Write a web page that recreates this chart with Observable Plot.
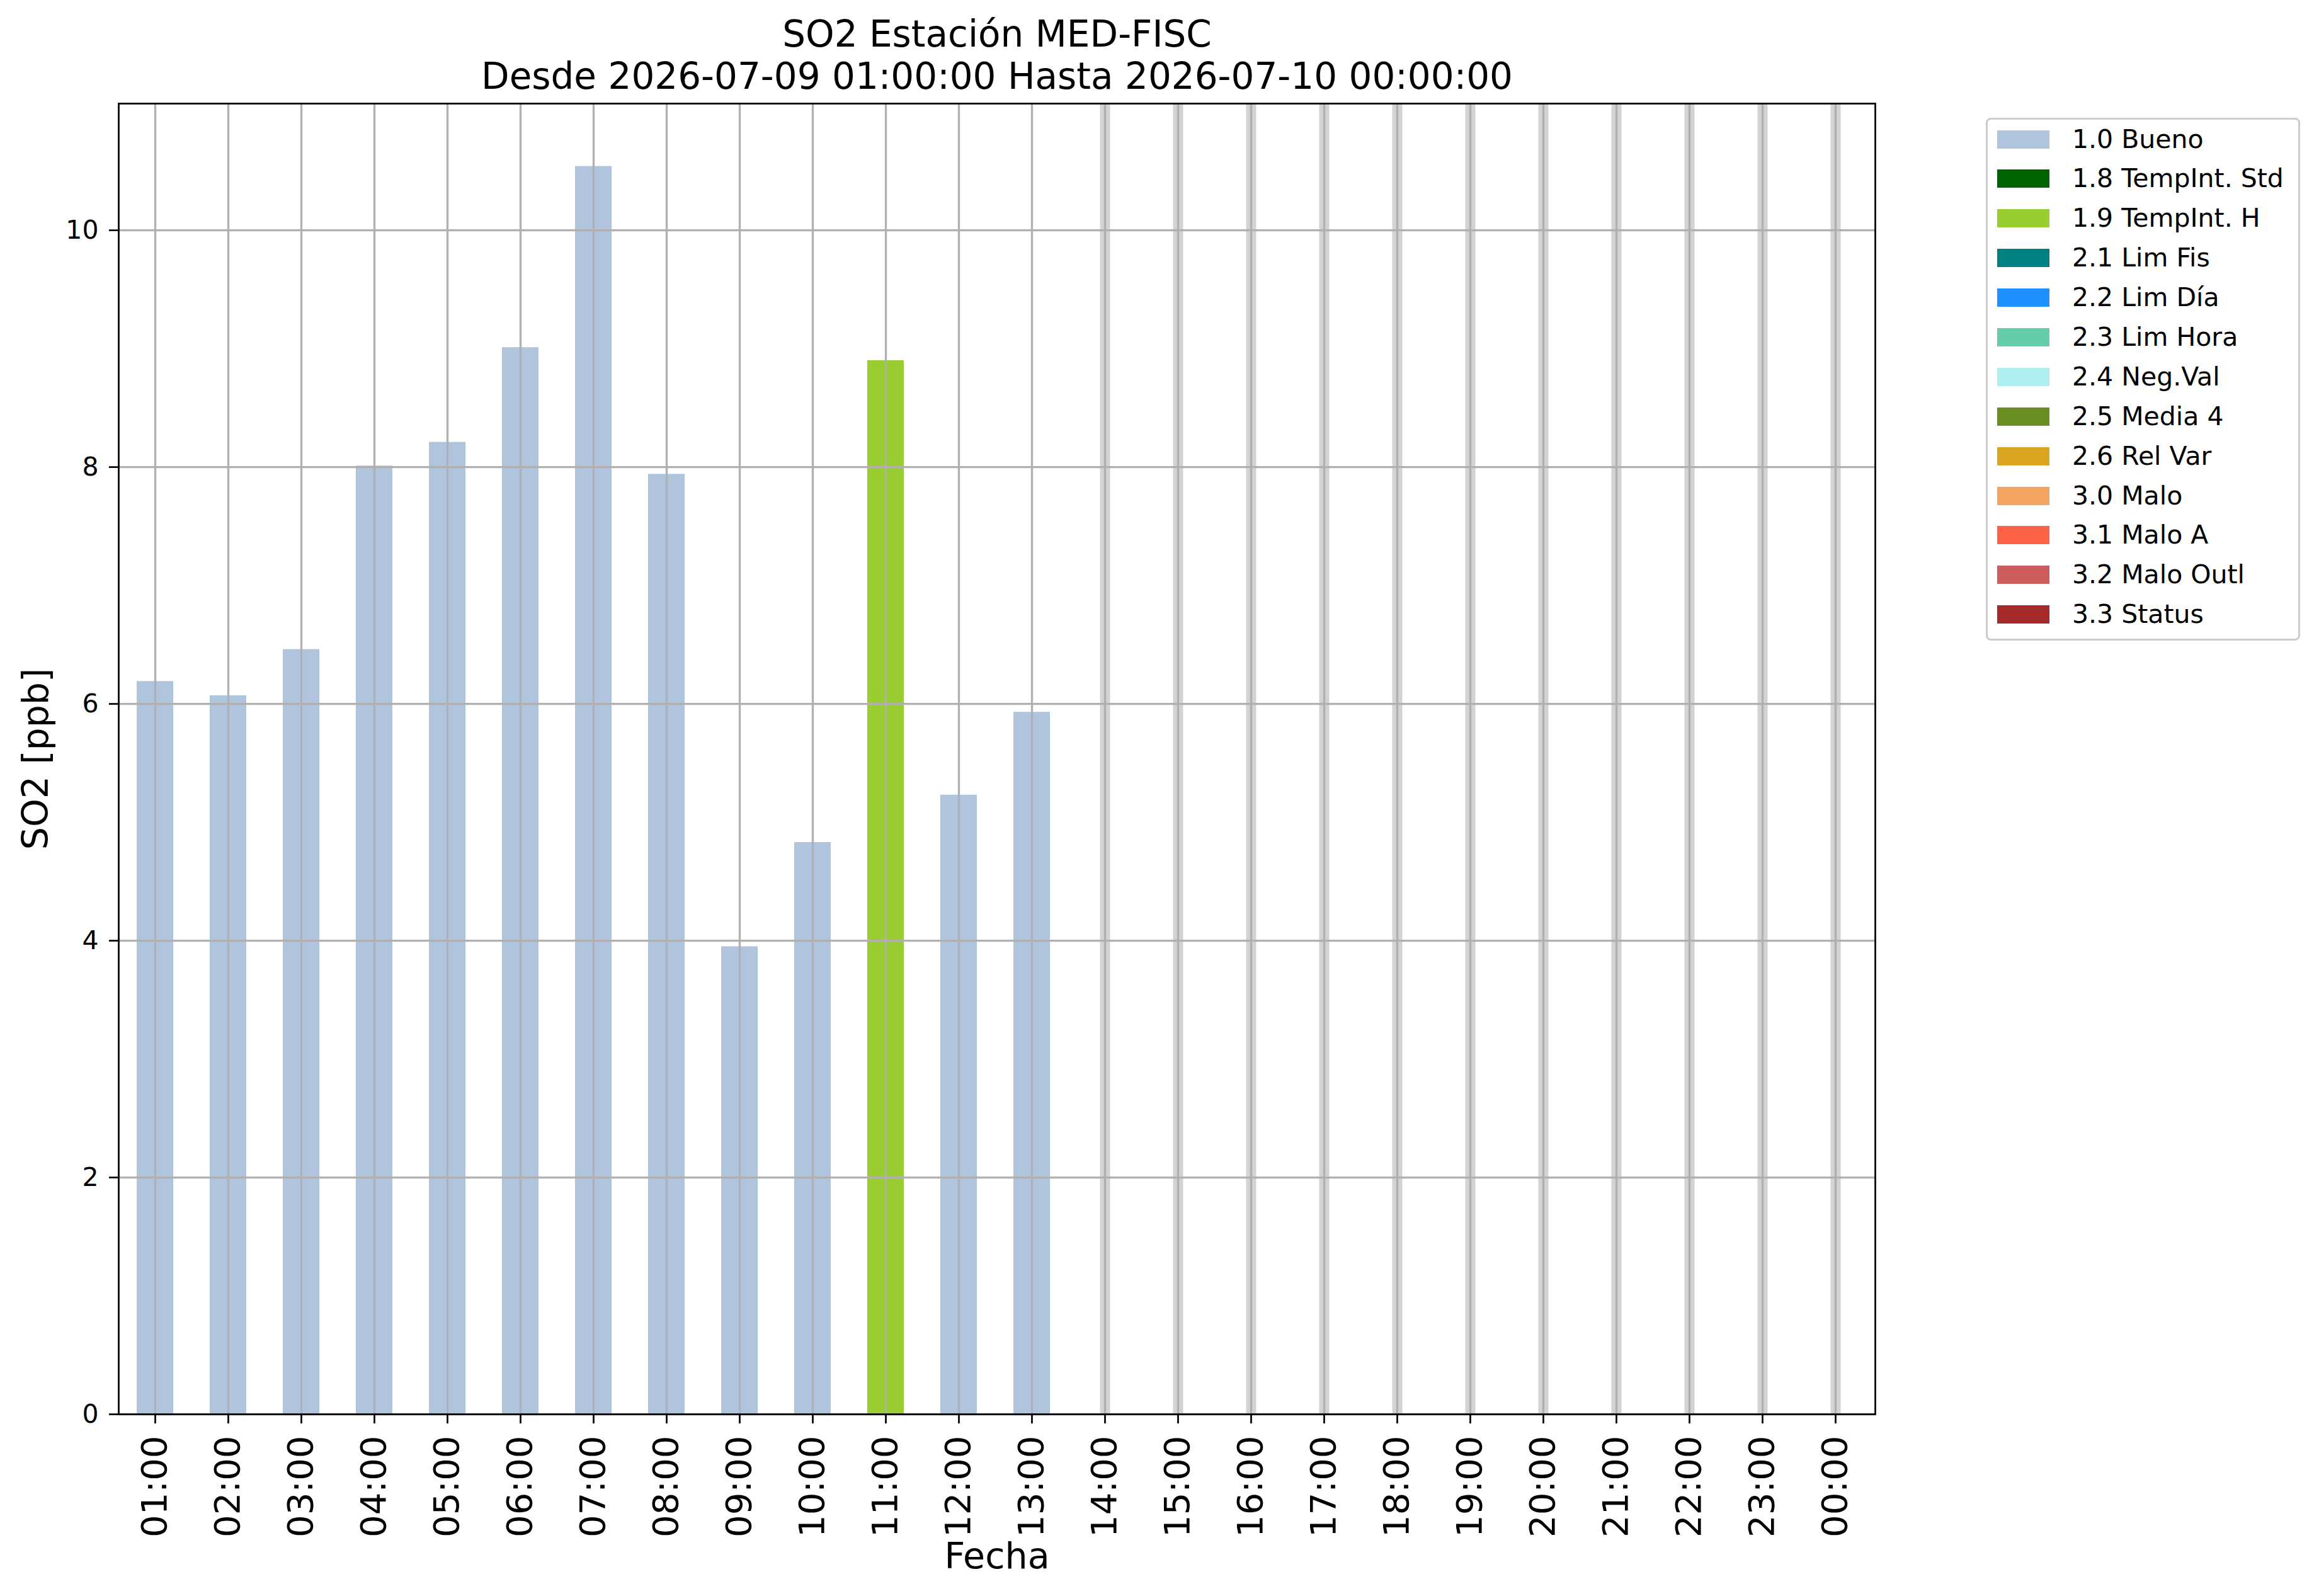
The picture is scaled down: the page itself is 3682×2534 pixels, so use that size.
<!DOCTYPE html>
<html>
<head>
<meta charset="utf-8">
<script src="https://cdn.jsdelivr.net/npm/d3@7"></script>
<script src="https://cdn.jsdelivr.net/npm/@observablehq/plot@0.6"></script>
<style>
  html, body { margin: 0; padding: 0; background: white; }
  #wrap { position: relative; width: 3682px; height: 2534px; font-family: "DejaVu Sans", sans-serif; }
  #legend { position: absolute; left: 3153px; top: 187px; width: 493px; height: 824px;
            border: 3px solid #cccccc; border-radius: 8px; background: white; box-sizing: content-box; }
  .row { position: absolute; left: 0; height: 62.8px; display: flex; align-items: center; }
  .sw { position: absolute; left: 15px; width: 83px; height: 29px; }
  .lb { position: absolute; left: 134px; font-size: 41px; white-space: nowrap; color: black; line-height: 1; }
</style>
</head>
<body>
<div id="wrap"></div>
<script>
// ---- data ----
const hours = ["01:00","02:00","03:00","04:00","05:00","06:00","07:00","08:00","09:00","10:00","11:00","12:00",
               "13:00","14:00","15:00","16:00","17:00","18:00","19:00","20:00","21:00","22:00","23:00","00:00"];
const values = [6.19, 6.07, 6.46, 8.01, 8.21, 9.01, 10.54, 7.94, 3.95, 4.83, 8.90, 5.23, 5.93,
                null, null, null, null, null, null, null, null, null, null, null];
const flags = ["1.0 Bueno","1.0 Bueno","1.0 Bueno","1.0 Bueno","1.0 Bueno","1.0 Bueno","1.0 Bueno",
               "1.0 Bueno","1.0 Bueno","1.0 Bueno","1.9 TempInt. H","1.0 Bueno","1.0 Bueno",
               null, null, null, null, null, null, null, null, null, null, null];
const missingHours = ["14:00","15:00","16:00","17:00","18:00","19:00","20:00","21:00","22:00","23:00","00:00"];
const legendLabels = ["1.0 Bueno","1.8 TempInt. Std","1.9 TempInt. H","2.1 Lim Fis","2.2 Lim Día","2.3 Lim Hora",
                      "2.4 Neg.Val","2.5 Media 4","2.6 Rel Var","3.0 Malo","3.1 Malo A","3.2 Malo Outl","3.3 Status"];
const legendColors = ["#b0c4de","#006400","#9acd32","#008080","#1e90ff","#66cdaa",
                      "#afeeee","#6b8e23","#daa520","#f4a460","#ff6347","#cd5c5c","#a52a2a"];
const yTicks = [0, 2, 4, 6, 8, 10];
const titleLines = ["SO2 Estación MED-FISC", "Desde 2026-07-09 01:00:00 Hasta 2026-07-10 00:00:00"];
const xLabel = "Fecha";
const yLabel = "SO2 [ppb]";

const data = hours.map((h, i) => ({hour: h, value: values[i], flag: flags[i]})).filter(d => d.value != null);

const mid = {lineAnchor: "middle", textAnchor: "middle", fill: "black"};

const chart = Plot.plot({
  width: 3682,
  height: 2534,
  marginLeft: 188,
  marginRight: 705,
  marginTop: 164,
  marginBottom: 289,
  style: {fontFamily: "DejaVu Sans", background: "white", color: "black"},
  x: {type: "band", domain: hours, paddingInner: 0.5, paddingOuter: 0.25, align: 0.46},
  y: {domain: [0, 11.07]},
  color: {domain: legendLabels, range: legendColors},
  marks: [
    Plot.ruleX(missingHours, {x: d => d, stroke: "#d3d3d3", strokeWidth: 16}),
    Plot.barY(data, {x: "hour", y: "value", fill: "flag"}),
    Plot.gridY(yTicks, {stroke: "#b0b0b0", strokeOpacity: 1, strokeWidth: 3.3}),
    Plot.ruleX(hours, {x: d => d, stroke: "#b0b0b0", strokeWidth: 3.3}),
    Plot.frame({stroke: "black", strokeWidth: 2.7}),
    Plot.axisY(yTicks, {tickSize: 15, tickPadding: 17, fontSize: 41, label: null, strokeWidth: 2.7, tickFormat: d => String(d)}),
    Plot.axisX({tickSize: 15, tickPadding: 19, tickRotate: -90, fontSize: 56, label: null, strokeWidth: 2.7}),
    Plot.text([titleLines[0]], {frameAnchor: "top", dy: -109, fontSize: 58, ...mid}),
    Plot.text([titleLines[1]], {frameAnchor: "top", dy: -42, fontSize: 58, ...mid}),
    Plot.text([xLabel], {frameAnchor: "bottom", dy: 226, fontSize: 57, ...mid}),
    Plot.text([yLabel], {frameAnchor: "left", dx: -131, rotate: -90, fontSize: 57, ...mid})
  ]
});

const wrap = document.getElementById("wrap");
wrap.appendChild(chart);

const legend = document.createElement("div");
legend.id = "legend";
legendLabels.forEach((lab, i) => {
  const row = document.createElement("div");
  row.className = "row";
  row.style.top = (221 - 190 + i * 62.9 - 31.4) + "px";
  row.style.width = "100%";
  const sw = document.createElement("div");
  sw.className = "sw";
  sw.style.background = legendColors[i];
  sw.style.top = (62.8 / 2 - 14.5) + "px";
  const lb = document.createElement("div");
  lb.className = "lb";
  lb.textContent = lab;
  row.appendChild(sw);
  row.appendChild(lb);
  legend.appendChild(row);
});
wrap.appendChild(legend);
</script>
</body>
</html>
